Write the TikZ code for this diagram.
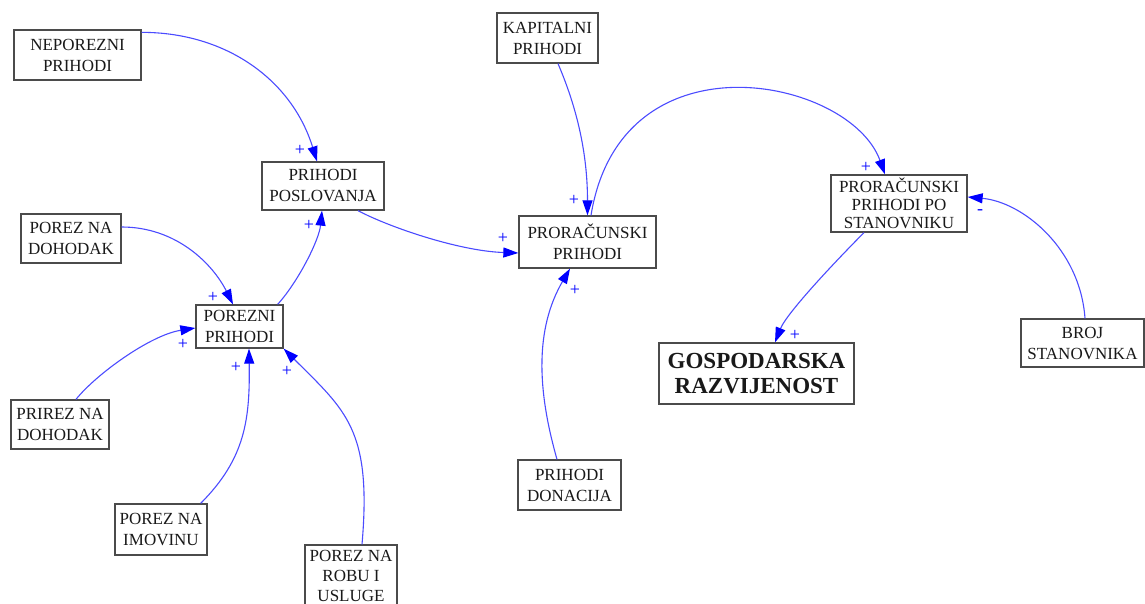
\documentclass[tikz,border=0pt]{standalone}
\usepackage{fontspec}
\setmainfont{Liberation Serif}
\usetikzlibrary{arrows.meta}
\definecolor{linkblue}{RGB}{75,75,255}
\definecolor{boxgray}{RGB}{75,75,75}
\definecolor{txt}{RGB}{25,25,25}
\tikzset{
  box/.style={draw=boxgray, line width=1.3pt, fill=white, inner sep=0pt, align=center, text=txt, font=\fontsize{17}{21}\selectfont},
  link/.style={draw=linkblue, line width=1.1pt, -{Triangle[length=15pt,width=10pt,color=blue]}},
  pol/.style={text=blue, font=\fontsize{18}{18}\selectfont, inner sep=0pt},
}
\begin{document}
\begin{tikzpicture}[x=1pt,y=-1pt]
\useasboundingbox (0,0) rectangle (1145,604);
\node[box, minimum width=127pt, minimum height=50pt] (nep) at (77.5,55) {NEPOREZNI\\PRIHODI};
\node[box, minimum width=122pt, minimum height=48pt] (pp) at (323,186) {PRIHODI\\POSLOVANJA};
\node[box, minimum width=100pt, minimum height=49pt] (pd) at (71,238.5) {POREZ NA\\DOHODAK};
\node[box, minimum width=87pt, minimum height=43pt] (por) at (239.5,326.5) {POREZNI\\PRIHODI};
\node[box, minimum width=98pt, minimum height=49pt] (prirez) at (60,424.5) {PRIREZ NA\\DOHODAK};
\node[box, minimum width=92pt, minimum height=51pt] (imov) at (161,529.5) {POREZ NA\\IMOVINU};
\node[box, minimum width=92pt, minimum height=61pt, font=\fontsize{17}{20}\selectfont] (robu) at (351,575.5) {POREZ NA\\ROBU I\\USLUGE};
\node[box, minimum width=101pt, minimum height=50pt] (kap) at (547.5,38) {KAPITALNI\\PRIHODI};
\node[box, minimum width=137pt, minimum height=52pt] (pror) at (587.5,242) {PRORAČUNSKI\\PRIHODI};
\node[box, minimum width=136pt, minimum height=57pt, font=\fontsize{17}{18}\selectfont] (pst) at (899,203.5) {PRORAČUNSKI\\PRIHODI PO\\STANOVNIKU};
\node[box, minimum width=195pt, minimum height=61pt, font=\fontsize{23}{25}\selectfont\bfseries] (gosp) at (756.5,373.5) {GOSPODARSKA\\RAZVIJENOST};
\node[box, minimum width=123pt, minimum height=48pt] (broj) at (1082.5,343) {BROJ\\STANOVNIKA};
\node[box, minimum width=103pt, minimum height=50pt] (don) at (569.5,485) {PRIHODI\\DONACIJA};

\draw[link] ([yshift=-3pt]nep.north east) .. controls +(85,0) and +(-25,-81) .. ([xshift=-6pt]pp.north);
\draw[link] ([xshift=-6pt]por.north east) .. controls +(20,-22) and +(-3,30) .. ([xshift=-1pt]pp.south);
\draw[link] ([yshift=11.5pt]pd.east) .. controls +(55,0) and +(-20,-40) .. ([xshift=-6.5pt]por.north);
\draw[link] ([xshift=16pt]prirez.north) .. controls +(20,-25) and +(-45,7) .. ([yshift=-1.5pt]por.west);
\draw[link] ([xshift=-7pt]imov.north east) .. controls +(45,-45) and +(1,70) .. ([xshift=9.5pt]por.south);
\draw[link] ([xshift=11pt]robu.north) .. controls +(10,-115) and +(62,62) .. (por.south east);
\draw[link] ([xshift=35pt]pp.south) .. controls +(30,16) and +(-60,-2) .. ([yshift=-11pt]pror.west);
\draw[link] ([xshift=10.5pt]kap.south) .. controls +(15,35) and +(0,-70) .. (pror.north);
\draw[link] ([xshift=3.5pt]pror.north) .. controls +(30,-185) and +(-35,-97) .. ([xshift=-14pt]pst.north);
\draw[link] ([xshift=-35pt]pst.south) .. controls +(-25,25) and +(12,-30) .. ([xshift=18.5pt]gosp.north);
\draw[link] ([xshift=2.5pt]broj.north) .. controls +(-5,-70) and +(55,5) .. ([yshift=6.5pt]pst.east);
\draw[link] ([xshift=-12.5pt]don.north) .. controls +(-20,-70) and +(-35,60) .. ([xshift=-17.5pt]pror.south);

\node[pol] (s1) at (300,150) {+};
\node[pol] (s2) at (309,225) {+};
\node[pol] (s3) at (213,297) {+};
\node[pol] (s4) at (183,344) {+};
\node[pol] (s5) at (236,367) {+};
\node[pol] (s6) at (287,371) {+};
\node[pol] (s7) at (503,238) {+};
\node[pol] (s8) at (574,200) {+};
\node[pol] (s9) at (866,167) {+};
\node[pol] (s10) at (795,335) {+};
\node[pol] (s11) at (980,212) {-};
\node[pol] (s12) at (575,290) {+};
\end{tikzpicture}
\end{document}
